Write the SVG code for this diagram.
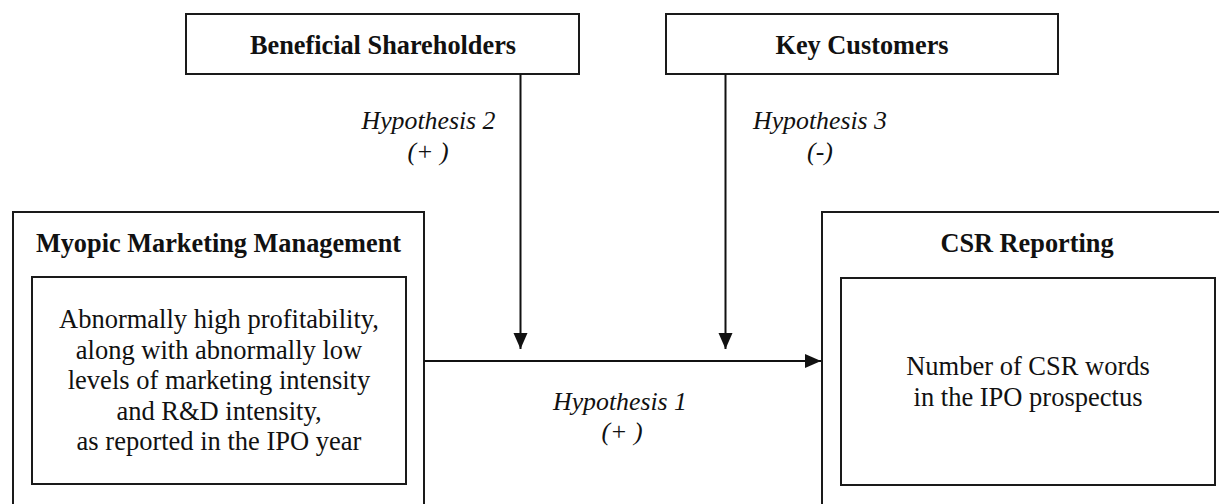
<svg xmlns="http://www.w3.org/2000/svg" width="1219" height="504" viewBox="0 0 1219 504">
<defs>
<style>
.box{fill:#fff;stroke:#1a1a1a;stroke-width:2}
.t{font-family:"Liberation Serif","Times New Roman",serif;fill:#111;text-anchor:middle}
.b{font-weight:bold;font-size:26.3px}
.r{font-size:26.5px}
.i{font-style:italic;font-size:25.8px}
.ln{stroke:#111;stroke-width:2;fill:none}
</style>
<marker id="ah" markerUnits="userSpaceOnUse" markerWidth="16" markerHeight="16" viewBox="0 0 16 16" refX="16" refY="8" orient="auto">
<path d="M0,1 L16,8 L0,15 Z" fill="#111"/>
</marker>
</defs>
<rect width="1219" height="504" fill="#fff"/>
<g id="beneficial">
<rect class="box" x="186" y="14" width="393" height="60"/>
<text class="t b" x="383" y="54">Beneficial Shareholders</text>
</g>
<g id="customers">
<rect class="box" x="666" y="14" width="392" height="60"/>
<text class="t b" x="862" y="54">Key Customers</text>
</g>
<g id="myopic">
<rect class="box" x="13" y="212" width="411" height="320"/>
<text class="t b" x="218.5" y="252">Myopic Marketing Management</text>
<rect class="box" x="32" y="277" width="374" height="207"/>
<text class="t r" x="219" y="328">Abnormally high profitability,</text>
<text class="t r" x="219" y="358.5">along with abnormally low</text>
<text class="t r" x="219" y="389">levels of marketing intensity</text>
<text class="t r" x="219" y="419.5">and R&amp;D intensity,</text>
<text class="t r" x="219" y="450">as reported in the IPO year</text>
</g>
<g id="csr">
<rect class="box" x="822" y="212" width="420" height="320"/>
<text class="t b" x="1027" y="252">CSR Reporting</text>
<rect class="box" x="841" y="278" width="374" height="207"/>
<text class="t r" x="1028" y="375">Number of CSR words</text>
<text class="t r" x="1028" y="406">in the IPO prospectus</text>
</g>
<g id="connectors">
<line class="ln" x1="424" y1="361" x2="821" y2="361" marker-end="url(#ah)"/>
<line class="ln" x1="520.5" y1="74" x2="520.5" y2="349" marker-end="url(#ah)"/>
<line class="ln" x1="725.5" y1="74" x2="725.5" y2="349" marker-end="url(#ah)"/>
</g>
<g id="labels">
<text class="t i" x="428.5" y="129">Hypothesis 2</text>
<text class="t i" x="428" y="160">(+ )</text>
<text class="t i" x="820" y="129">Hypothesis 3</text>
<text class="t i" x="820" y="160">(-)</text>
<text class="t i" x="620" y="410">Hypothesis 1</text>
<text class="t i" x="622" y="440">(+ )</text>
</g>
</svg>
